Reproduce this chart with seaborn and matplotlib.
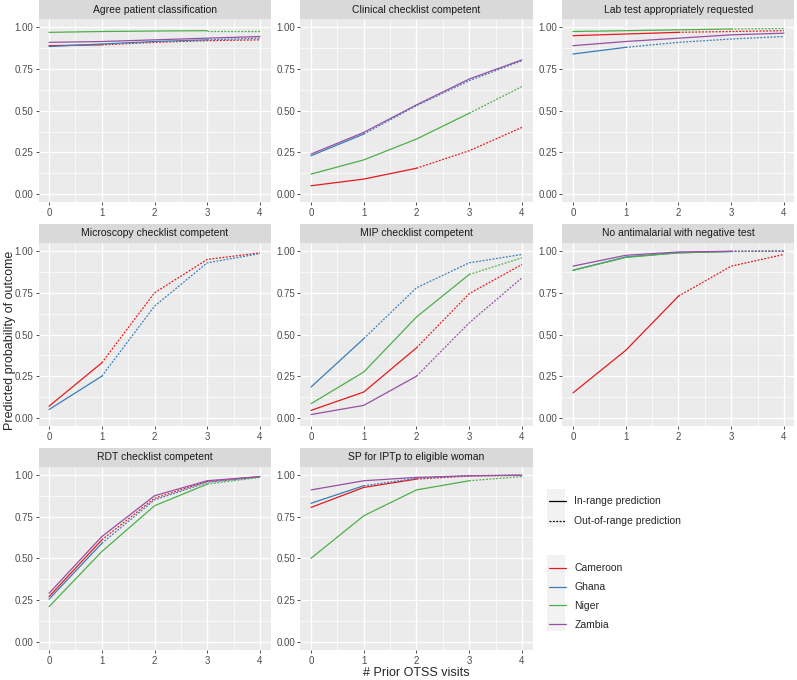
import matplotlib
matplotlib.use("Agg")
import matplotlib.pyplot as plt
from matplotlib.lines import Line2D
from matplotlib.patches import Rectangle
import pandas as pd
import seaborn as sns

# Data
visits = [0, 1, 2, 3, 4]
countries = ["Cameroon", "Ghana", "Niger", "Zambia"]
palette = {"Cameroon": "#E41A1C", "Ghana": "#377EB8", "Niger": "#4DAF4A", "Zambia": "#984EA3"}

agree_patient = {"Cameroon": [0.89, 0.895, 0.91, 0.92, 0.925],
                 "Ghana": [0.885, 0.90, 0.915, 0.925, 0.935],
                 "Niger": [0.97, 0.975, 0.978, 0.98, 0.98],
                 "Zambia": [0.91, 0.915, 0.925, 0.935, 0.945]}
clinical = {"Cameroon": [0.05, 0.09, 0.155, 0.26, 0.40],
            "Ghana": [0.23, 0.36, 0.53, 0.68, 0.80],
            "Niger": [0.12, 0.205, 0.33, 0.485, 0.645],
            "Zambia": [0.24, 0.37, 0.535, 0.69, 0.805]}
lab_test = {"Cameroon": [0.95, 0.96, 0.97, 0.975, 0.98],
            "Ghana": [0.84, 0.88, 0.91, 0.93, 0.945],
            "Niger": [0.975, 0.98, 0.985, 0.99, 0.993],
            "Zambia": [0.89, 0.915, 0.935, 0.955, 0.965]}
microscopy = {"Cameroon": [0.07, 0.33, 0.75, 0.95, 0.99],
              "Ghana": [0.05, 0.25, 0.67, 0.93, 0.985]}
mip = {"Cameroon": [0.045, 0.155, 0.42, 0.745, 0.92],
       "Ghana": [0.185, 0.475, 0.78, 0.93, 0.98],
       "Niger": [0.085, 0.275, 0.605, 0.86, 0.96],
       "Zambia": [0.02, 0.075, 0.25, 0.57, 0.84]}
no_antimalarial = {"Cameroon": [0.15, 0.405, 0.73, 0.91, 0.98],
                   "Ghana": [0.885, 0.965, 0.99, 0.998, 1.0],
                   "Niger": [0.885, 0.962, 0.99, 0.998, 1.0],
                   "Zambia": [0.91, 0.975, 0.995, 0.999, 1.0]}
rdt = {"Cameroon": [0.27, 0.61, 0.86, 0.96, 0.99],
       "Ghana": [0.255, 0.59, 0.85, 0.955, 0.988],
       "Niger": [0.21, 0.54, 0.815, 0.945, 0.985],
       "Zambia": [0.29, 0.63, 0.875, 0.965, 0.99]}
sp_iptp = {"Cameroon": [0.805, 0.925, 0.975, 0.993, 0.998],
           "Ghana": [0.83, 0.935, 0.98, 0.995, 0.999],
           "Niger": [0.50, 0.755, 0.91, 0.965, 0.99],
           "Zambia": [0.91, 0.965, 0.985, 0.995, 0.998]}

# last visit count still inside the observed range
agree_cut = {"Cameroon": 1, "Ghana": 3, "Niger": 3, "Zambia": 4}
clinical_cut = {"Cameroon": 2, "Ghana": 1, "Niger": 3, "Zambia": 4}
lab_cut = {"Cameroon": 2, "Ghana": 1, "Niger": 3, "Zambia": 4}
microscopy_cut = {"Cameroon": 1, "Ghana": 1}
mip_cut = {"Cameroon": 2, "Ghana": 1, "Niger": 3, "Zambia": 2}
noanti_cut = {"Cameroon": 2, "Ghana": 3, "Niger": 3, "Zambia": 3}
rdt_cut = {"Cameroon": 1, "Ghana": 1, "Niger": 3, "Zambia": 4}
sp_cut = {"Cameroon": 2, "Ghana": 1, "Niger": 3, "Zambia": 4}

panels = [("Agree patient classification", agree_patient, agree_cut),
          ("Clinical checklist competent", clinical, clinical_cut),
          ("Lab test appropriately requested", lab_test, lab_cut),
          ("Microscopy checklist competent", microscopy, microscopy_cut),
          ("MIP checklist competent", mip, mip_cut),
          ("No antimalarial with negative test", no_antimalarial, noanti_cut),
          ("RDT checklist competent", rdt, rdt_cut),
          ("SP for IPTp to eligible woman", sp_iptp, sp_cut)]

# Build long table
rows = []
for title, values, cuts in panels:
    for c, ys in values.items():
        for x, y in zip(visits, ys):
            if x <= cuts[c]:
                rows.append((title, c, x, y, "in"))
            if x >= cuts[c]:
                rows.append((title, c, x, y, "out"))
df = pd.DataFrame(rows, columns=["panel", "country", "visits", "prob", "range"])

sns.set_style("darkgrid", {"axes.facecolor": "#EBEBEB", "grid.color": "white"})
plt.rcParams["font.family"] = ["Liberation Sans", "DejaVu Sans"]

fig, axes = plt.subplots(3, 3, figsize=(7.97, 6.8), dpi=100)
fig.subplots_adjust(left=38.5 / 797, right=794.5 / 797, top=1 - 19 / 680,
                    bottom=1 - 650 / 680, wspace=0.129, hspace=0.22)

for ax, (title, values, cuts) in zip(axes.flat, panels):
    sub = df[df.panel == title]
    sns.lineplot(data=sub, x="visits", y="prob", hue="country", style="range",
                 palette=palette, dashes={"in": "", "out": (1.5, 1.2)},
                 estimator=None, linewidth=0.9, legend=False, ax=ax)
    ax.set_xlim(-0.2, 4.2)
    ax.set_ylim(-0.05, 1.05)
    ax.set_xticks(visits)
    ax.set_yticks([0, 0.25, 0.5, 0.75, 1.0])
    ax.set_yticklabels(["0.00", "0.25", "0.50", "0.75", "1.00"])
    ax.set_xticks([0.5, 1.5, 2.5, 3.5], minor=True)
    ax.set_yticks([0.125, 0.375, 0.625, 0.875], minor=True)
    ax.grid(which="major", color="white", linewidth=1.0)
    ax.grid(which="minor", color="white", linewidth=0.5)
    ax.tick_params(which="major", length=2.5, width=0.6, color="#333333",
                   labelsize=7, labelcolor="#4D4D4D", pad=1.5, bottom=True, left=True)
    ax.tick_params(which="minor", length=0)
    ax.set_xlabel("")
    ax.set_ylabel("")
    for s in ax.spines.values():
        s.set_visible(False)
    ax.add_patch(Rectangle((0, 1), 1, 19 / 184, transform=ax.transAxes,
                           facecolor="#D9D9D9", edgecolor="none", clip_on=False))
    ax.text(0.5, 1 + 9.5 / 184, title, transform=ax.transAxes, ha="center",
            va="center", fontsize=7.5, color="#1A1A1A")

axes[2, 2].axis("off")

fig.text(0.012, 0.5, "Predicted probability of outcome", rotation=90,
         ha="center", va="center", fontsize=9)
fig.text(416.5 / 797, 1 - 673 / 680, "# Prior OTSS visits", ha="center",
         va="center", fontsize=9)

# grey key backgrounds as in ggplot legends
for top, h in [(489, 38), (555, 76)]:
    fig.patches.append(Rectangle((547 / 797, 1 - (top + h) / 680), 18 / 797, h / 680,
                                 transform=fig.transFigure, facecolor="#F2F2F2",
                                 edgecolor="none", zorder=0))

style_handles = [Line2D([], [], color="black", lw=0.9, label="In-range prediction"),
                 Line2D([], [], color="black", lw=0.9, dashes=(1.5, 1.2),
                        label="Out-of-range prediction")]
country_handles = [Line2D([], [], color=palette[c], lw=0.9, label=c) for c in countries]

leg1 = fig.legend(handles=style_handles, loc="upper left",
                  bbox_to_anchor=(540 / 797, 1 - 487 / 680), frameon=False,
                  fontsize=7.5, handlelength=1.6, labelspacing=0.95)
leg2 = fig.legend(handles=country_handles, loc="upper left",
                  bbox_to_anchor=(540 / 797, 1 - 554 / 680), frameon=False,
                  fontsize=7.5, handlelength=1.6, labelspacing=0.85)

fig.savefig("out.png", dpi=100)
